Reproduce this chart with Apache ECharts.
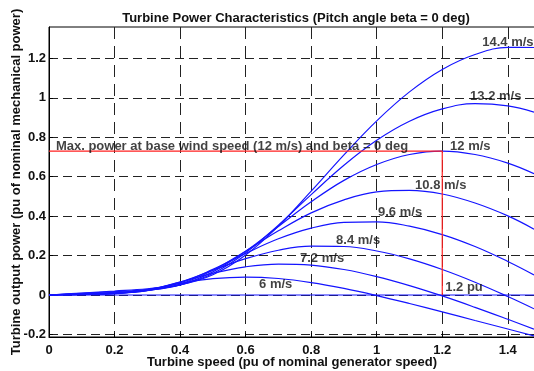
<!DOCTYPE html>
<html>
<head>
<meta charset="utf-8">
<script src="https://cdn.jsdelivr.net/npm/echarts@6/dist/echarts.min.js"></script>
<style>
html,body{margin:0;padding:0;background:#fff}
#container{width:534px;height:371px}
</style>
</head>
<body>
<div id="container"></div>
<script>
// turbine speed (pu) at which the curves were read
var speeds = [0, 0.1, 0.2, 0.3, 0.4, 0.5, 0.6, 0.7, 0.8, 0.9, 1.0, 1.1, 1.2, 1.3, 1.4, 1.48];

// output power (pu) for each wind speed
var p6   = [0, 0.0017, 0.0067, 0.0278, 0.0591, 0.0827, 0.0911, 0.0836, 0.0632, 0.0334, -0.0028, -0.0431, -0.0857, -0.1293, -0.1726, -0.2076];
var p72  = [0, 0.0025, 0.0068, 0.0258, 0.0658, 0.1104, 0.1430, 0.1570, 0.1518, 0.1292, 0.0935, 0.0479, -0.0048, -0.0626, -0.1233, -0.1731];
var p84  = [0, 0.0034, 0.0075, 0.0232, 0.0654, 0.1255, 0.1841, 0.2270, 0.2478, 0.2458, 0.2231, 0.1832, 0.1293, 0.0648, -0.0077, -0.0700];
var p96  = [0, 0.0045, 0.0094, 0.0215, 0.0611, 0.1297, 0.2105, 0.2849, 0.3389, 0.3684, 0.3713, 0.3490, 0.3063, 0.2458, 0.1701, 0.1020];
var p108 = [0, 0.0057, 0.0114, 0.0228, 0.0549, 0.1251, 0.2221, 0.3253, 0.4165, 0.4825, 0.5229, 0.5301, 0.5122, 0.4663, 0.4011, 0.3340];
var p12  = [0, 0.0070, 0.0140, 0.0237, 0.0513, 0.1174, 0.2219, 0.3475, 0.4725, 0.5812, 0.6618, 0.7126, 0.7300, 0.7125, 0.6690, 0.6152];
var p132 = [0, 0.0085, 0.0169, 0.0275, 0.0508, 0.1092, 0.2142, 0.3542, 0.5091, 0.6579, 0.7844, 0.8809, 0.9435, 0.9704, 0.9591, 0.9271];
var p144 = [0, 0.0100, 0.0202, 0.0318, 0.0509, 0.1025, 0.2029, 0.3497, 0.5264, 0.7106, 0.8830, 1.0299, 1.1437, 1.2194, 1.2557, 1.2551];
var curves = [p6, p72, p84, p96, p108, p12, p132, p144];

// base point: max power at base wind speed, reached at 1.2 pu speed
var baseSpeed = 1.2;
var basePower = 0.73;
var speedMax = 1.483;

var yTicks = [-0.2, 0, 0.2, 0.4, 0.6, 0.8, 1, 1.2];

// text annotations
var noteTexts = ['14.4 m/s', '13.2 m/s', '12 m/s', '10.8 m/s', '9.6 m/s', '8.4 m/s', '7.2 m/s', '6 m/s', '1.2 pu',
	'Max. power at base wind speed (12 m/s) and beta = 0 deg'];
var noteX = [1.322, 1.285, 1.224, 1.117, 1.004, 0.876, 0.766, 0.641, 1.209, 0.021];
var noteY = [1.283, 1.009, 0.755, 0.558, 0.421, 0.279, 0.188, 0.056, 0.039, 0.755];

var dom = document.getElementById("container");
var myChart = echarts.init(dom);
var font = 'Liberation Sans, Arial, sans-serif';
var txt = { fontFamily: font, fontSize: 13, fontWeight: 'bold', color: '#111' };

var series = curves.map(function (c) {
	return {
		type: 'line',
		data: speeds.map(function (s, i) { return [s, c[i]]; }),
		showSymbol: false,
		smooth: 0.4,
		lineStyle: { color: '#1414ff', width: 1.2 },
		z: 3
	};
});
// zero line
series.push({
	type: 'line',
	data: [[0, 0], [speedMax, 0]],
	showSymbol: false,
	lineStyle: { color: '#1414ff', width: 1.2 },
	z: 3
});
// red base-point lines
series.push({
	type: 'line',
	data: [[0, basePower], [baseSpeed, basePower], [baseSpeed, 0]],
	showSymbol: false,
	lineStyle: { color: '#ff2020', width: 1.2 },
	z: 4
});
// annotations
series.push({
	type: 'scatter',
	symbolSize: 1,
	itemStyle: { color: 'transparent' },
	silent: true,
	z: 5,
	data: noteTexts.map(function (t, i) { return { name: t, value: [noteX[i], noteY[i]] }; }),
	label: Object.assign({
		show: true,
		position: 'inside',
		align: 'left',
		verticalAlign: 'middle',
		formatter: '{b}'
	}, txt)
});

option = {
	animation: false,
	backgroundColor: '#fff',
	title: {
		text: 'Turbine Power Characteristics (Pitch angle beta = 0 deg)',
		left: 291,
		top: 7,
		textAlign: 'center',
		textStyle: txt
	},
	grid: {
		left: 49, right: -1, top: 27, bottom: 34,
		containLabel: false,
		outerBoundsMode: 'none',
		show: true, borderColor: '#000', borderWidth: 1
	},
	xAxis: {
		type: 'value',
		min: 0, max: speedMax, interval: 0.2,
		name: 'Turbine speed (pu of nominal generator speed)',
		nameLocation: 'middle',
		nameGap: 19,
		nameMoveOverlap: false,
		nameTextStyle: txt,
		axisLine: { onZero: false, lineStyle: { color: '#000', width: 1 } },
		axisTick: { inside: true, length: 4, lineStyle: { color: '#000' } },
		axisLabel: Object.assign({
			margin: 7,
			showMaxLabel: false,
			formatter: function (v) { return String(Math.round(v * 10) / 10); }
		}, txt),
		splitLine: { show: true, lineStyle: { color: '#222', width: 1, type: [12, 7] } }
	},
	yAxis: {
		type: 'value',
		min: -0.213, max: 1.359,
		name: 'Turbine output power (pu of nominal mechanical power)',
		nameLocation: 'middle',
		nameGap: 26,
		nameMoveOverlap: false,
		nameTextStyle: txt,
		axisLine: { show: true, onZero: false, lineStyle: { color: '#000', width: 1 } },
		axisTick: { show: true, inside: true, length: 4, customValues: yTicks, lineStyle: { color: '#000' } },
		axisLabel: Object.assign({
			margin: 3,
			customValues: yTicks,
			formatter: function (v) { return String(Math.round(v * 10) / 10); }
		}, txt),
		splitLine: { show: true, lineStyle: { color: '#222', width: 1, type: [9, 5] } }
	},
	series: series
};

if (option && typeof option === "object") {
	myChart.setOption(option, true);
}
</script>
</body>
</html>
